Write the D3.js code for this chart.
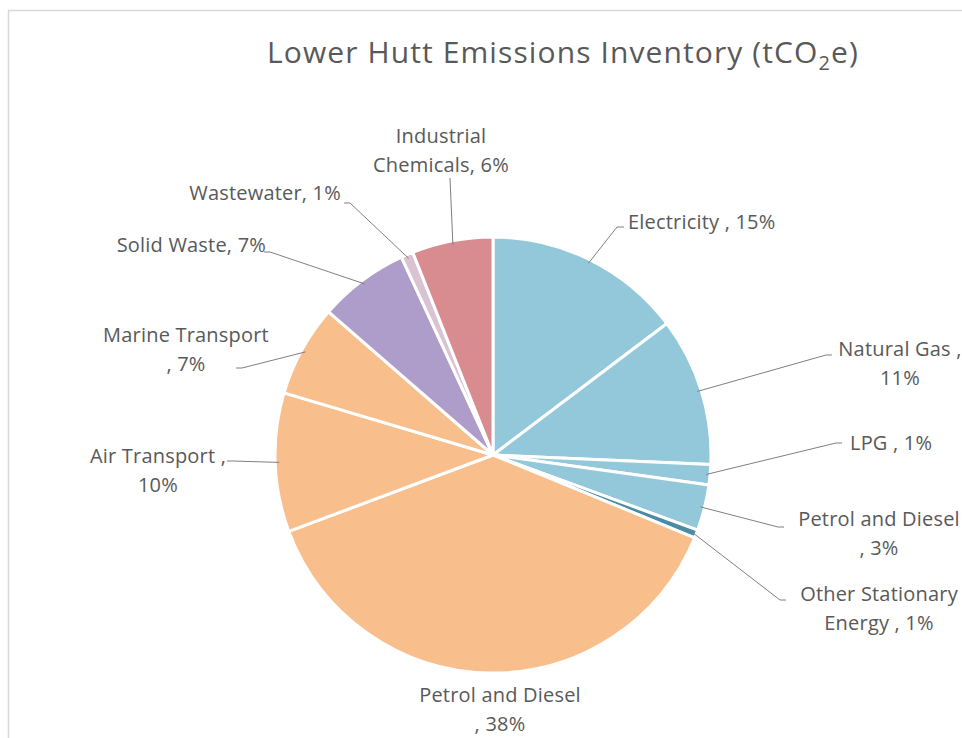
<!DOCTYPE html>
<html>
<head>
<meta charset="utf-8">
<script src="https://cdn.jsdelivr.net/npm/d3@7"></script>
<style>
  body { margin: 0; background: #fff; }
  text { font-family: "Open Sans", "Noto Sans", sans-serif; fill: #595959; }
</style>
</head>
<body>
<svg id="chart"></svg>
<script>
// slices, clockwise from 12 o'clock
let names = ["Electricity", "Natural Gas", "LPG", "Petrol and Diesel (stationary)", "Other Stationary Energy",
             "Petrol and Diesel", "Air Transport", "Marine Transport", "Solid Waste", "Wastewater", "Industrial Chemicals"]
let shares = [14.7, 11.0, 1.5, 3.4, 0.6, 38.1, 10.3, 6.8, 6.7, 0.9, 6.0]
let colours = ["#93C8DB", "#93C8DB", "#93C8DB", "#93C8DB", "#4A8CA6",
               "#F8BE8C", "#F8BE8C", "#F8BE8C", "#AE9DCB", "#D9C3D3", "#D98C8F"]

// label text lines
let labelLines = [
  ["Electricity , 15%"],
  ["Natural Gas ,", "11%"],
  ["LPG , 1%"],
  ["Petrol and Diesel", ", 3%"],
  ["Other Stationary", "Energy , 1%"],
  ["Petrol and Diesel", ", 38%"],
  ["Air Transport ,", "10%"],
  ["Marine Transport", ", 7%"],
  ["Solid Waste, 7%"],
  ["Wastewater, 1%"],
  ["Industrial", "Chemicals, 6%"]
]

let w = 962
let h = 738
let cx = 493
let cy = 455
let r = 218

// label anchor spots [x, y of first line, anchor]
let labelPos = [
  [628, 229, "start"],
  [900, 356, "middle"],
  [850, 450, "start"],
  [879, 526, "middle"],
  [879, 601, "middle"],
  [500, 702, "middle"],
  [158, 463, "middle"],
  [186, 342, "middle"],
  [266, 252, "end"],
  [341, 200, "end"],
  [441, 143, "middle"]
]
// leader line start (near label) for each slice, null = no line
let leaderStart = [
  [617, 227], [826, 355], [836, 443], [778, 527], [780, 600],
  null, [233, 461], [242, 368], [270, 252], [350, 203], [450, 178]
]

let svg = d3.select("#chart").attr("width", w).attr("height", h)

// frame
svg.append("path")
   .attr("d", "M8.5," + h + " V10.5 H" + w)
   .attr("fill", "none")
   .attr("stroke", "#d9d9d9")
   .attr("stroke-width", 1.5)

let title = svg.append("text")
   .attr("x", 563)
   .attr("y", 63)
   .attr("text-anchor", "middle")
   .style("font-size", "30px")
   .style("letter-spacing", "1.1px")
title.append("tspan").text("Lower Hutt Emissions Inventory (tCO")
title.append("tspan").text("2").attr("dy", 7).style("font-size", "20px")
title.append("tspan").text("e)").attr("dy", -7)

let pie = d3.pie().sort(null).value((d) => d)
let arcs = pie(shares)
let arc = d3.arc().innerRadius(0).outerRadius(r)

let g = svg.append("g").attr("transform", "translate(" + cx + "," + cy + ")")

g.selectAll("path")
 .data(arcs)
 .enter()
 .append("path")
 .attr("d", arc)
 .attr("fill", (d, i) => colours[i])
 .attr("stroke", "#fff")
 .attr("stroke-width", 3)
 .attr("stroke-linejoin", "round")

// leader lines: from label spot to the slice edge
arcs.forEach((d, i) => {
  if (!leaderStart[i]) return
  let mid = (d.startAngle + d.endAngle) / 2
  let ex = cx + Math.sin(mid) * (r - 4)
  let ey = cy - Math.cos(mid) * (r - 4)
  let s = leaderStart[i]
  let pts = [s]
  // short horizontal tick next to the label, like Excel
  if (i >= 1 && i <= 4) {
    pts = [[s[0] + 6, s[1]], s]
  } else if (i === 0) {
    pts = [[s[0] + 7, s[1]], s]
  } else if (i >= 6 && i <= 9) {
    pts = [[s[0] - 6, s[1]], s]
  }
  pts.push([ex, ey])
  svg.append("path")
     .attr("d", d3.line()(pts))
     .attr("fill", "none")
     .attr("stroke", "#7f7f7f")
     .attr("stroke-width", 1)
})

// labels
labelLines.forEach((lines, i) => {
  let p = labelPos[i]
  let t = svg.append("text")
     .attr("x", p[0])
     .attr("y", p[1])
     .attr("text-anchor", p[2])
     .style("font-size", "20px")
     .style("letter-spacing", "0.2px")
  lines.forEach((ln, k) => {
    t.append("tspan")
     .attr("x", p[0])
     .attr("dy", k === 0 ? 0 : 29)
     .text(ln)
  })
})
</script>
</body>
</html>
